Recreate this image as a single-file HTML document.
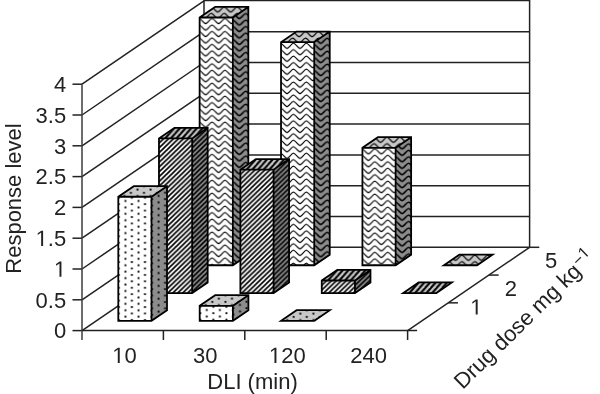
<!DOCTYPE html>
<html><head><meta charset="utf-8"><style>
html,body{margin:0;padding:0;background:#fff;}
svg{display:block;filter:grayscale(1);}
</style></head><body>
<svg width="600" height="394" viewBox="0 0 600 394">
<defs><pattern id="dF" patternUnits="userSpaceOnUse" width="13.1" height="6.43"><rect width="13.1" height="6.43" fill="#fff"/><g fill="#000"><rect x="-6.92" y="-3.15" width="1.85" height="1.85"/><rect x="-6.92" y="3.28" width="1.85" height="1.85"/><rect x="-6.92" y="9.7" width="1.85" height="1.85"/><rect x="6.17" y="-3.15" width="1.85" height="1.85"/><rect x="6.17" y="3.28" width="1.85" height="1.85"/><rect x="6.17" y="9.7" width="1.85" height="1.85"/><rect x="19.27" y="-3.15" width="1.85" height="1.85"/><rect x="19.27" y="3.28" width="1.85" height="1.85"/><rect x="19.27" y="9.7" width="1.85" height="1.85"/><rect x="-0.43" y="-6.35" width="1.85" height="1.85"/><rect x="-0.43" y="0.07" width="1.85" height="1.85"/><rect x="-0.43" y="6.5" width="1.85" height="1.85"/><rect x="12.67" y="-6.35" width="1.85" height="1.85"/><rect x="12.67" y="0.07" width="1.85" height="1.85"/><rect x="12.67" y="6.5" width="1.85" height="1.85"/><rect x="25.77" y="-6.35" width="1.85" height="1.85"/><rect x="25.77" y="0.07" width="1.85" height="1.85"/><rect x="25.77" y="6.5" width="1.85" height="1.85"/></g></pattern><pattern id="dS" patternUnits="userSpaceOnUse" width="13.1" height="6.43"><rect width="13.1" height="6.43" fill="#8c8c8c"/><g fill="#000"><rect x="-6.92" y="-3.15" width="1.85" height="1.85"/><rect x="-6.92" y="3.28" width="1.85" height="1.85"/><rect x="-6.92" y="9.7" width="1.85" height="1.85"/><rect x="6.17" y="-3.15" width="1.85" height="1.85"/><rect x="6.17" y="3.28" width="1.85" height="1.85"/><rect x="6.17" y="9.7" width="1.85" height="1.85"/><rect x="19.27" y="-3.15" width="1.85" height="1.85"/><rect x="19.27" y="3.28" width="1.85" height="1.85"/><rect x="19.27" y="9.7" width="1.85" height="1.85"/><rect x="-0.43" y="-6.35" width="1.85" height="1.85"/><rect x="-0.43" y="0.07" width="1.85" height="1.85"/><rect x="-0.43" y="6.5" width="1.85" height="1.85"/><rect x="12.67" y="-6.35" width="1.85" height="1.85"/><rect x="12.67" y="0.07" width="1.85" height="1.85"/><rect x="12.67" y="6.5" width="1.85" height="1.85"/><rect x="25.77" y="-6.35" width="1.85" height="1.85"/><rect x="25.77" y="0.07" width="1.85" height="1.85"/><rect x="25.77" y="6.5" width="1.85" height="1.85"/></g></pattern><pattern id="dT" patternUnits="userSpaceOnUse" width="13.1" height="6.43"><rect width="13.1" height="6.43" fill="#c8c8c8"/><g fill="#000"><rect x="-6.92" y="-3.15" width="1.85" height="1.85"/><rect x="-6.92" y="3.28" width="1.85" height="1.85"/><rect x="-6.92" y="9.7" width="1.85" height="1.85"/><rect x="6.17" y="-3.15" width="1.85" height="1.85"/><rect x="6.17" y="3.28" width="1.85" height="1.85"/><rect x="6.17" y="9.7" width="1.85" height="1.85"/><rect x="19.27" y="-3.15" width="1.85" height="1.85"/><rect x="19.27" y="3.28" width="1.85" height="1.85"/><rect x="19.27" y="9.7" width="1.85" height="1.85"/><rect x="-0.43" y="-6.35" width="1.85" height="1.85"/><rect x="-0.43" y="0.07" width="1.85" height="1.85"/><rect x="-0.43" y="6.5" width="1.85" height="1.85"/><rect x="12.67" y="-6.35" width="1.85" height="1.85"/><rect x="12.67" y="0.07" width="1.85" height="1.85"/><rect x="12.67" y="6.5" width="1.85" height="1.85"/><rect x="25.77" y="-6.35" width="1.85" height="1.85"/><rect x="25.77" y="0.07" width="1.85" height="1.85"/><rect x="25.77" y="6.5" width="1.85" height="1.85"/></g></pattern><pattern id="sF" patternUnits="userSpaceOnUse" width="4.95" height="4.8"><rect width="4.95" height="4.8" fill="#fff"/><g fill="#000"><polygon points="-1.19,0 1.19,0 -3.76,4.8 -6.14,4.8"/><polygon points="3.76,0 6.14,0 1.19,4.8 -1.19,4.8"/><polygon points="8.71,0 11.09,0 6.14,4.8 3.76,4.8"/></g></pattern><pattern id="sS" patternUnits="userSpaceOnUse" width="4.95" height="4.8"><rect width="4.95" height="4.8" fill="#8c8c8c"/><g fill="#000"><polygon points="-1.19,0 1.19,0 -3.76,4.8 -6.14,4.8"/><polygon points="3.76,0 6.14,0 1.19,4.8 -1.19,4.8"/><polygon points="8.71,0 11.09,0 6.14,4.8 3.76,4.8"/></g></pattern><pattern id="sT" patternUnits="userSpaceOnUse" width="4.95" height="4.8"><rect width="4.95" height="4.8" fill="#c8c8c8"/><g fill="#000"><polygon points="-1.19,0 1.19,0 -3.76,4.8 -6.14,4.8"/><polygon points="3.76,0 6.14,0 1.19,4.8 -1.19,4.8"/><polygon points="8.71,0 11.09,0 6.14,4.8 3.76,4.8"/></g></pattern><pattern id="wF" patternUnits="userSpaceOnUse" width="12.95" height="6.47"><rect width="12.95" height="6.47" fill="#fff"/><path d="M-19.9,-0.37 C-17.7,-0.37 -15.63,-5.37 -13.42,-5.37 C-11.22,-5.37 -9.15,-0.37 -6.95,-0.37 C-4.75,-0.37 -2.68,-5.37 -0.47,-5.37 C1.73,-5.37 3.8,-0.37 6,-0.37 C8.2,-0.37 10.27,-5.37 12.47,-5.37 C14.68,-5.37 16.75,-0.37 18.95,-0.37 C21.15,-0.37 23.22,-5.37 25.42,-5.37 C27.63,-5.37 29.7,-0.37 31.9,-0.37 C34.1,-0.37 36.17,-5.37 38.38,-5.37 C40.58,-5.37 42.65,-0.37 44.85,-0.37 M-19.9,6.1 C-17.7,6.1 -15.63,1.1 -13.42,1.1 C-11.22,1.1 -9.15,6.1 -6.95,6.1 C-4.75,6.1 -2.68,1.1 -0.47,1.1 C1.73,1.1 3.8,6.1 6,6.1 C8.2,6.1 10.27,1.1 12.47,1.1 C14.68,1.1 16.75,6.1 18.95,6.1 C21.15,6.1 23.22,1.1 25.42,1.1 C27.63,1.1 29.7,6.1 31.9,6.1 C34.1,6.1 36.17,1.1 38.38,1.1 C40.58,1.1 42.65,6.1 44.85,6.1 M-19.9,12.57 C-17.7,12.57 -15.63,7.57 -13.42,7.57 C-11.22,7.57 -9.15,12.57 -6.95,12.57 C-4.75,12.57 -2.68,7.57 -0.47,7.57 C1.73,7.57 3.8,12.57 6,12.57 C8.2,12.57 10.27,7.57 12.47,7.57 C14.68,7.57 16.75,12.57 18.95,12.57 C21.15,12.57 23.22,7.57 25.42,7.57 C27.63,7.57 29.7,12.57 31.9,12.57 C34.1,12.57 36.17,7.57 38.38,7.57 C40.58,7.57 42.65,12.57 44.85,12.57" fill="none" stroke="#000" stroke-width="1.15"/></pattern><pattern id="wS" patternUnits="userSpaceOnUse" width="12.95" height="6.47"><rect width="12.95" height="6.47" fill="#8c8c8c"/><path d="M-19.9,-0.37 C-17.7,-0.37 -15.63,-5.37 -13.42,-5.37 C-11.22,-5.37 -9.15,-0.37 -6.95,-0.37 C-4.75,-0.37 -2.68,-5.37 -0.47,-5.37 C1.73,-5.37 3.8,-0.37 6,-0.37 C8.2,-0.37 10.27,-5.37 12.47,-5.37 C14.68,-5.37 16.75,-0.37 18.95,-0.37 C21.15,-0.37 23.22,-5.37 25.42,-5.37 C27.63,-5.37 29.7,-0.37 31.9,-0.37 C34.1,-0.37 36.17,-5.37 38.38,-5.37 C40.58,-5.37 42.65,-0.37 44.85,-0.37 M-19.9,6.1 C-17.7,6.1 -15.63,1.1 -13.42,1.1 C-11.22,1.1 -9.15,6.1 -6.95,6.1 C-4.75,6.1 -2.68,1.1 -0.47,1.1 C1.73,1.1 3.8,6.1 6,6.1 C8.2,6.1 10.27,1.1 12.47,1.1 C14.68,1.1 16.75,6.1 18.95,6.1 C21.15,6.1 23.22,1.1 25.42,1.1 C27.63,1.1 29.7,6.1 31.9,6.1 C34.1,6.1 36.17,1.1 38.38,1.1 C40.58,1.1 42.65,6.1 44.85,6.1 M-19.9,12.57 C-17.7,12.57 -15.63,7.57 -13.42,7.57 C-11.22,7.57 -9.15,12.57 -6.95,12.57 C-4.75,12.57 -2.68,7.57 -0.47,7.57 C1.73,7.57 3.8,12.57 6,12.57 C8.2,12.57 10.27,7.57 12.47,7.57 C14.68,7.57 16.75,12.57 18.95,12.57 C21.15,12.57 23.22,7.57 25.42,7.57 C27.63,7.57 29.7,12.57 31.9,12.57 C34.1,12.57 36.17,7.57 38.38,7.57 C40.58,7.57 42.65,12.57 44.85,12.57" fill="none" stroke="#000" stroke-width="1.5"/></pattern><pattern id="wT" patternUnits="userSpaceOnUse" width="12.95" height="6.47"><rect width="12.95" height="6.47" fill="#c8c8c8"/><path d="M-19.9,-0.37 C-17.7,-0.37 -15.63,-5.37 -13.42,-5.37 C-11.22,-5.37 -9.15,-0.37 -6.95,-0.37 C-4.75,-0.37 -2.68,-5.37 -0.47,-5.37 C1.73,-5.37 3.8,-0.37 6,-0.37 C8.2,-0.37 10.27,-5.37 12.47,-5.37 C14.68,-5.37 16.75,-0.37 18.95,-0.37 C21.15,-0.37 23.22,-5.37 25.42,-5.37 C27.63,-5.37 29.7,-0.37 31.9,-0.37 C34.1,-0.37 36.17,-5.37 38.38,-5.37 C40.58,-5.37 42.65,-0.37 44.85,-0.37 M-19.9,6.1 C-17.7,6.1 -15.63,1.1 -13.42,1.1 C-11.22,1.1 -9.15,6.1 -6.95,6.1 C-4.75,6.1 -2.68,1.1 -0.47,1.1 C1.73,1.1 3.8,6.1 6,6.1 C8.2,6.1 10.27,1.1 12.47,1.1 C14.68,1.1 16.75,6.1 18.95,6.1 C21.15,6.1 23.22,1.1 25.42,1.1 C27.63,1.1 29.7,6.1 31.9,6.1 C34.1,6.1 36.17,1.1 38.38,1.1 C40.58,1.1 42.65,6.1 44.85,6.1 M-19.9,12.57 C-17.7,12.57 -15.63,7.57 -13.42,7.57 C-11.22,7.57 -9.15,12.57 -6.95,12.57 C-4.75,12.57 -2.68,7.57 -0.47,7.57 C1.73,7.57 3.8,12.57 6,12.57 C8.2,12.57 10.27,7.57 12.47,7.57 C14.68,7.57 16.75,12.57 18.95,12.57 C21.15,12.57 23.22,7.57 25.42,7.57 C27.63,7.57 29.7,12.57 31.9,12.57 C34.1,12.57 36.17,7.57 38.38,7.57 C40.58,7.57 42.65,12.57 44.85,12.57" fill="none" stroke="#000" stroke-width="1.25"/></pattern><pattern id="p1s" href="#wS" patternTransform="translate(233.33,18.97)"/><pattern id="p1t" href="#wT" patternTransform="translate(211.73,5.9)"/><pattern id="p1f" href="#wF" patternTransform="translate(199.63,17.5)"/><pattern id="p2s" href="#wS" patternTransform="translate(314.73,43.67)"/><pattern id="p2t" href="#wT" patternTransform="translate(293.13,30.6)"/><pattern id="p2f" href="#wF" patternTransform="translate(281.03,42.2)"/><pattern id="p3s" href="#wS" patternTransform="translate(396.13,149.27)"/><pattern id="p3t" href="#wT" patternTransform="translate(374.53,136.2)"/><pattern id="p3f" href="#wF" patternTransform="translate(362.43,147.8)"/><pattern id="p4t" href="#wT" patternTransform="translate(462.43,254.17)"/><pattern id="p5s" href="#sS" patternTransform="translate(192.17,138.4)"/><pattern id="p5t" href="#sT" patternTransform="translate(174.47,127.8) scale(1.15,1.35)"/><pattern id="p5f" href="#sF" patternTransform="translate(158.97,138.4)"/><pattern id="p6s" href="#sS" patternTransform="translate(273.57,169.7)"/><pattern id="p6t" href="#sT" patternTransform="translate(255.87,159.1) scale(1.15,1.35)"/><pattern id="p6f" href="#sF" patternTransform="translate(240.37,169.7)"/><pattern id="p7s" href="#sS" patternTransform="translate(354.97,280.5)"/><pattern id="p7t" href="#sT" patternTransform="translate(337.27,269.9) scale(1.15,1.35)"/><pattern id="p7f" href="#sF" patternTransform="translate(321.77,280.5)"/><pattern id="p8t" href="#sT" patternTransform="translate(418.67,282.43) scale(1.15,1.35)"/><pattern id="p9s" href="#dS" patternTransform="translate(151.5,198.13)"/><pattern id="p9t" href="#dT" patternTransform="translate(130.4,185.4)"/><pattern id="p9f" href="#dF" patternTransform="translate(118.3,196.75)"/><pattern id="p10s" href="#dS" patternTransform="translate(232.9,307.18)"/><pattern id="p10t" href="#dT" patternTransform="translate(211.8,294.45)"/><pattern id="p10f" href="#dF" patternTransform="translate(199.7,305.8)"/><pattern id="p11t" href="#dT" patternTransform="translate(293.2,309.45)"/></defs>
<rect width="600" height="394" fill="#fff"/>
<g stroke="#222" stroke-width="1.5" fill="none"><line x1="82" y1="330.6" x2="204" y2="247.3"/><line x1="204" y1="247.3" x2="529.6" y2="247.3"/><line x1="72.5" y1="330.6" x2="82" y2="330.6"/><line x1="82" y1="299.8" x2="204" y2="216.5"/><line x1="204" y1="216.5" x2="529.6" y2="216.5"/><line x1="72.5" y1="299.8" x2="82" y2="299.8"/><line x1="82" y1="269" x2="204" y2="185.7"/><line x1="204" y1="185.7" x2="529.6" y2="185.7"/><line x1="72.5" y1="269" x2="82" y2="269"/><line x1="82" y1="238.2" x2="204" y2="154.9"/><line x1="204" y1="154.9" x2="529.6" y2="154.9"/><line x1="72.5" y1="238.2" x2="82" y2="238.2"/><line x1="82" y1="207.4" x2="204" y2="124.1"/><line x1="204" y1="124.1" x2="529.6" y2="124.1"/><line x1="72.5" y1="207.4" x2="82" y2="207.4"/><line x1="82" y1="176.6" x2="204" y2="93.3"/><line x1="204" y1="93.3" x2="529.6" y2="93.3"/><line x1="72.5" y1="176.6" x2="82" y2="176.6"/><line x1="82" y1="145.8" x2="204" y2="62.5"/><line x1="204" y1="62.5" x2="529.6" y2="62.5"/><line x1="72.5" y1="145.8" x2="82" y2="145.8"/><line x1="82" y1="115" x2="204" y2="31.7"/><line x1="204" y1="31.7" x2="529.6" y2="31.7"/><line x1="72.5" y1="115" x2="82" y2="115"/><line x1="82" y1="84.2" x2="204" y2="0.9"/><line x1="204" y1="0.6" x2="529.6" y2="0.6"/><line x1="72.5" y1="84.2" x2="82" y2="84.2"/><line x1="204" y1="0" x2="204" y2="247.3"/><line x1="529.6" y1="0" x2="529.6" y2="247.3"/><line x1="82" y1="84.2" x2="82" y2="340" stroke="#3c3c3c"/><line x1="82" y1="330.6" x2="417.1" y2="330.6"/><line x1="163.4" y1="330.6" x2="163.4" y2="340"/><line x1="244.8" y1="330.6" x2="244.8" y2="340"/><line x1="326.2" y1="330.6" x2="326.2" y2="340"/><line x1="407.6" y1="330.6" x2="407.6" y2="340"/><line x1="407.6" y1="330.6" x2="529.6" y2="247.3"/><line x1="448.27" y1="302.83" x2="457.97" y2="302.83"/><line x1="488.93" y1="275.07" x2="498.63" y2="275.07"/><line x1="529.6" y1="247.3" x2="539.3" y2="247.3"/></g><g><polygon points="232.83,17.5 248.33,6.9 248.33,254.67 232.83,265.27" fill="url(#p1s)"/><polygon points="199.63,17.5 232.83,17.5 248.33,6.9 215.13,6.9" fill="url(#p1t)"/><rect x="199.63" y="17.5" width="33.2" height="247.77" fill="url(#p1f)"/><path d="M199.63,265.27 L199.63,17.5 L215.13,6.9 L248.33,6.9 L248.33,254.67 L232.83,265.27 Z M199.63,17.5 L232.83,17.5 L248.33,6.9 M232.83,17.5 L232.83,265.27" fill="none" stroke="#000" stroke-width="1.8"/><polygon points="314.23,42.2 329.73,31.6 329.73,254.67 314.23,265.27" fill="url(#p2s)"/><polygon points="281.03,42.2 314.23,42.2 329.73,31.6 296.53,31.6" fill="url(#p2t)"/><rect x="281.03" y="42.2" width="33.2" height="223.07" fill="url(#p2f)"/><path d="M281.03,265.27 L281.03,42.2 L296.53,31.6 L329.73,31.6 L329.73,254.67 L314.23,265.27 Z M281.03,42.2 L314.23,42.2 L329.73,31.6 M314.23,42.2 L314.23,265.27" fill="none" stroke="#000" stroke-width="1.8"/><polygon points="395.63,147.8 411.13,137.2 411.13,254.67 395.63,265.27" fill="url(#p3s)"/><polygon points="362.43,147.8 395.63,147.8 411.13,137.2 377.93,137.2" fill="url(#p3t)"/><rect x="362.43" y="147.8" width="33.2" height="117.47" fill="url(#p3f)"/><path d="M362.43,265.27 L362.43,147.8 L377.93,137.2 L411.13,137.2 L411.13,254.67 L395.63,265.27 Z M362.43,147.8 L395.63,147.8 L411.13,137.2 M395.63,147.8 L395.63,265.27" fill="none" stroke="#000" stroke-width="1.8"/><polygon points="443.83,265.27 477.03,265.27 492.53,254.67 459.33,254.67" fill="url(#p4t)" stroke="#000" stroke-width="1.8" stroke-miterlimit="10"/><polygon points="192.17,138.4 207.67,127.8 207.67,282.43 192.17,293.03" fill="url(#p5s)"/><polygon points="158.97,138.4 192.17,138.4 207.67,127.8 174.47,127.8" fill="url(#p5t)"/><rect x="158.97" y="138.4" width="33.2" height="154.63" fill="url(#p5f)"/><path d="M158.97,293.03 L158.97,138.4 L174.47,127.8 L207.67,127.8 L207.67,282.43 L192.17,293.03 Z M158.97,138.4 L192.17,138.4 L207.67,127.8 M192.17,138.4 L192.17,293.03" fill="none" stroke="#000" stroke-width="1.8"/><polygon points="273.57,169.7 289.07,159.1 289.07,282.43 273.57,293.03" fill="url(#p6s)"/><polygon points="240.37,169.7 273.57,169.7 289.07,159.1 255.87,159.1" fill="url(#p6t)"/><rect x="240.37" y="169.7" width="33.2" height="123.33" fill="url(#p6f)"/><path d="M240.37,293.03 L240.37,169.7 L255.87,159.1 L289.07,159.1 L289.07,282.43 L273.57,293.03 Z M240.37,169.7 L273.57,169.7 L289.07,159.1 M273.57,169.7 L273.57,293.03" fill="none" stroke="#000" stroke-width="1.8"/><polygon points="354.97,280.5 370.47,269.9 370.47,282.43 354.97,293.03" fill="url(#p7s)"/><polygon points="321.77,280.5 354.97,280.5 370.47,269.9 337.27,269.9" fill="url(#p7t)"/><rect x="321.77" y="280.5" width="33.2" height="12.53" fill="url(#p7f)"/><path d="M321.77,293.03 L321.77,280.5 L337.27,269.9 L370.47,269.9 L370.47,282.43 L354.97,293.03 Z M321.77,280.5 L354.97,280.5 L370.47,269.9 M354.97,280.5 L354.97,293.03" fill="none" stroke="#000" stroke-width="1.8"/><polygon points="403.17,293.03 436.37,293.03 451.87,282.43 418.67,282.43" fill="url(#p8t)" stroke="#000" stroke-width="1.8" stroke-miterlimit="10"/><polygon points="151.5,196.75 167,186.15 167,310.2 151.5,320.8" fill="url(#p9s)"/><polygon points="118.3,196.75 151.5,196.75 167,186.15 133.8,186.15" fill="url(#p9t)"/><rect x="118.3" y="196.75" width="33.2" height="124.05" fill="url(#p9f)"/><path d="M118.3,320.8 L118.3,196.75 L133.8,186.15 L167,186.15 L167,310.2 L151.5,320.8 Z M118.3,196.75 L151.5,196.75 L167,186.15 M151.5,196.75 L151.5,320.8" fill="none" stroke="#000" stroke-width="1.8"/><polygon points="232.9,305.8 248.4,295.2 248.4,310.2 232.9,320.8" fill="url(#p10s)"/><polygon points="199.7,305.8 232.9,305.8 248.4,295.2 215.2,295.2" fill="url(#p10t)"/><rect x="199.7" y="305.8" width="33.2" height="15" fill="url(#p10f)"/><path d="M199.7,320.8 L199.7,305.8 L215.2,295.2 L248.4,295.2 L248.4,310.2 L232.9,320.8 Z M199.7,305.8 L232.9,305.8 L248.4,295.2 M232.9,305.8 L232.9,320.8" fill="none" stroke="#000" stroke-width="1.8"/><polygon points="281.1,320.8 314.3,320.8 329.8,310.2 296.6,310.2" fill="url(#p11t)" stroke="#000" stroke-width="1.8" stroke-miterlimit="10"/></g><g font-family="Liberation Sans, sans-serif" font-size="22" fill="#222"><text x="53.96" y="338.3">0</text><text x="35.62" y="307.5">0.5</text><path d="M515 0V1237L197 1010V1180L530 1409H696V0Z" transform="translate(53.96,276.7) scale(0.010742,-0.010742)"/><path d="M515 0V1237L197 1010V1180L530 1409H696V0Z" transform="translate(35.62,245.9) scale(0.010742,-0.010742)"/><text x="47.85" y="245.9">.5</text><text x="53.96" y="215.1">2</text><text x="35.62" y="184.3">2.5</text><text x="53.96" y="153.5">3</text><text x="35.62" y="122.7">3.5</text><text x="53.96" y="91.9">4</text><path d="M515 0V1237L197 1010V1180L530 1409H696V0Z" transform="translate(112.26,362.9) scale(0.010742,-0.010742)"/><text x="124.5" y="362.9">0</text><text x="192.96" y="362.9">30</text><path d="M515 0V1237L197 1010V1180L530 1409H696V0Z" transform="translate(268.95,362.9) scale(0.010742,-0.010742)"/><text x="281.18" y="362.9">20</text><text x="350.35" y="362.9">240</text><text x="252.5" y="388.8" text-anchor="middle">DLI (min)</text><text transform="translate(20.8,198.5) rotate(-90)" text-anchor="middle">Response level</text><path d="M515 0V1237L197 1010V1180L530 1409H696V0Z" transform="translate(470.18,314.6) scale(0.010742,-0.010742)"/><text x="504.68" y="295.5">2</text><text x="544.88" y="267.6">5</text><g transform="translate(462.7,389.9) rotate(-44.4)"><text x="0" y="0">Drug dose mg kg</text><text x="168.62" y="-6.8" font-size="16">−</text><path d="M515 0V1237L197 1010V1180L530 1409H696V0Z" transform="translate(178.07,-8.1) scale(0.007812,-0.007812)"/></g></g>
</svg>
</body></html>
